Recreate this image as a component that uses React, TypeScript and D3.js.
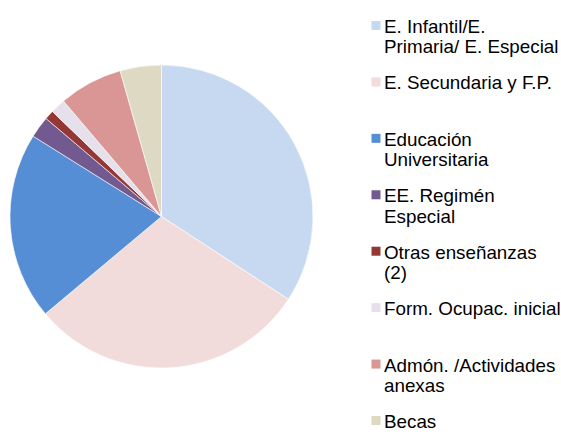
import * as d3 from 'd3';
import { useEffect, useRef } from 'react';

// categories (legend lines split where the original wraps)
const categories = [
  'E. Infantil/E. Primaria/ E. Especial',
  'E. Secundaria y F.P.',
  'Educación Universitaria',
  'EE. Regimén Especial',
  'Otras enseñanzas (2)',
  'Form. Ocupac. inicial',
  'Admón. /Actividades anexas',
  'Becas',
];
const legendLines = [
  ['E. Infantil/E.', 'Primaria/ E. Especial'],
  ['E. Secundaria y F.P.'],
  ['Educación', 'Universitaria'],
  ['EE. Regimén', 'Especial'],
  ['Otras enseñanzas', '(2)'],
  ['Form. Ocupac. inicial'],
  ['Admón. /Actividades', 'anexas'],
  ['Becas'],
];
// share of spending, %
const values = [34.2, 29.7, 20.0, 2.3, 1.0, 1.6, 6.8, 4.4];
const colors = ['#C6D9F0', '#F2DCDB', '#558ED5', '#725A90', '#953735', '#E6E0EC', '#D99694', '#DDD9C3'];

export default function App() {
  const svgRef = useRef<SVGSVGElement>(null);

  useEffect(() => {
    const w = 561;
    const h = 432;
    const svg = d3.select(svgRef.current);
    svg.selectAll('*').remove();
    svg.attr('width', w).attr('height', h);

    const cx = 161.5, cy = 216.5, r = 151.5;

    const pie = d3.pie<number>().sort(null).value(d => d);
    const arc = d3.arc<d3.PieArcDatum<number>>().innerRadius(0).outerRadius(r);

    svg.append('g')
      .attr('transform', `translate(${cx},${cy})`)
      .selectAll('path')
      .data(pie(values))
      .enter().append('path')
      .attr('d', arc)
      .attr('fill', (d, i) => colors[i])
      .attr('stroke', '#ffffff')
      .attr('stroke-width', 0.6);

    // legend
    const yLeg = d3.scalePoint<string>().domain(categories).range([33, 428]);
    const leg = svg.append('g');
    const items = leg.selectAll('g')
      .data(categories)
      .enter().append('g')
      .attr('transform', d => `translate(0,${yLeg(d)})`);

    items.append('rect')
      .attr('x', 371.5)
      .attr('y', -12)
      .attr('width', 9)
      .attr('height', 9)
      .attr('fill', (d, i) => colors[i]);

    items.append('text')
      .attr('transform', 'translate(384,0) scale(1.075,1)')
      .style('font', "17.5px 'Liberation Sans', Arial, sans-serif")
      .attr('fill', '#000')
      .each(function (d, i) {
        const t = d3.select(this);
        legendLines[i].forEach((line, j) => {
          t.append('tspan').attr('x', 0).attr('dy', j === 0 ? 0 : 20.5).text(line);
        });
      });
  }, []);

  return (
    <div style={{ position: 'absolute', left: 0, top: 0 }}>
      <svg ref={svgRef} style={{ display: 'block' }}></svg>
    </div>
  );
}
